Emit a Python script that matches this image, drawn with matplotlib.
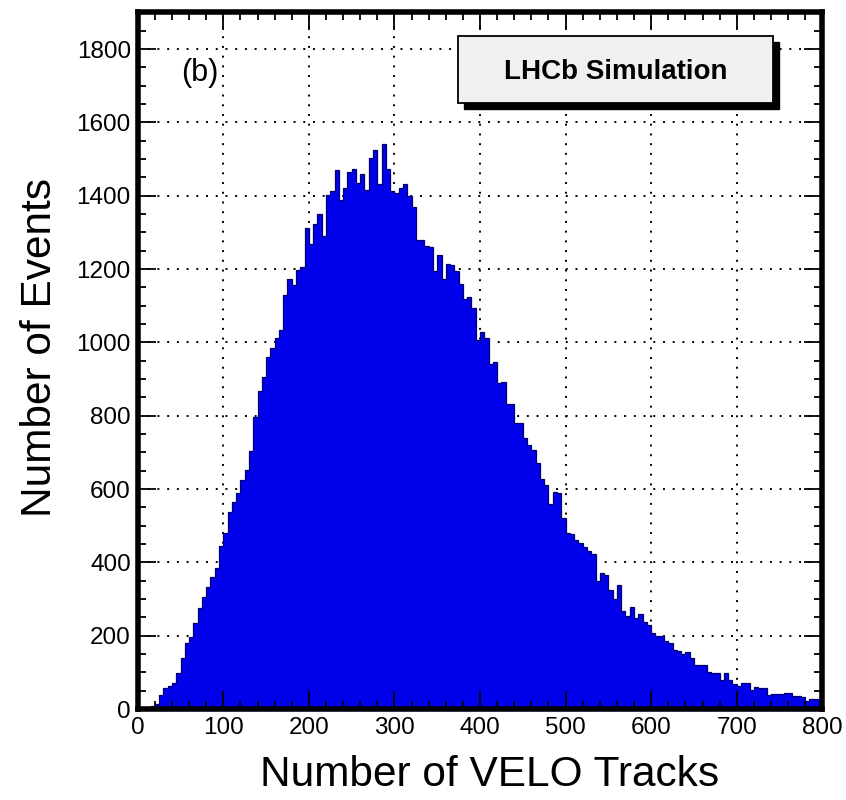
import numpy as np
import matplotlib
matplotlib.use("Agg")
import matplotlib.pyplot as plt
from matplotlib.patches import Rectangle

plt.rcParams['font.family'] = ['Liberation Sans', 'DejaVu Sans']

# histogram: 160 bins of width 5 between 0 and 800
bin_width = 5
x_min, x_max = 0, 800
y_max = 1900

counts = [
    3, 4, 5, 8, 15, 38, 56, 63, 72, 97,
    138, 179, 197, 234, 275, 306, 334, 361, 385, 445,
    479, 538, 565, 588, 625, 652, 704, 797, 868, 906,
    961, 984, 1012, 1034, 1129, 1174, 1156, 1197, 1206, 1312,
    1268, 1324, 1351, 1290, 1402, 1413, 1470, 1388, 1420, 1465,
    1474, 1434, 1458, 1415, 1502, 1525, 1431, 1540, 1472, 1412,
    1407, 1421, 1433, 1399, 1370, 1279, 1279, 1262, 1261, 1195,
    1238, 1173, 1215, 1212, 1195, 1160, 1118, 1124, 1093, 1006,
    1029, 1012, 940, 946, 888, 893, 832, 832, 780, 779,
    740, 720, 706, 670, 627, 612, 558, 593, 590, 522,
    480, 476, 462, 452, 443, 430, 423, 350, 372, 365,
    325, 299, 338, 267, 255, 277, 247, 259, 238, 229,
    208, 200, 198, 186, 179, 161, 158, 150, 156, 138,
    120, 120, 120, 102, 99, 99, 79, 99, 79, 68,
    63, 72, 72, 52, 61, 56, 56, 38, 41, 41,
    41, 43, 45, 35, 35, 32, 23, 26, 26, 28,
]

x_label = "Number of VELO Tracks"
y_label = "Number of Events"
panel_tag = "(b)"
banner = "LHCb Simulation"

edges = np.arange(x_min, x_max + bin_width, bin_width)
x_major = np.arange(0, 801, 100)
x_minor = np.arange(0, 801, 20)
y_major = np.arange(0, 1801, 200)
y_minor = np.arange(0, 1901, 50)

fig = plt.figure(figsize=(8.46, 8.0), dpi=100)
rect = [0.1628, 0.11375, 0.8092, 0.8708]

# background axes: grid + histogram
ax_bg = fig.add_axes(rect)
ax_bg.set_xlim(x_min, x_max)
ax_bg.set_ylim(0, y_max)
ax_bg.set_xticks(x_major)
ax_bg.set_yticks(y_major)
ax_bg.grid(True, color='black', linestyle=(0, (1, 4)), linewidth=1.4)
ax_bg.set_axisbelow(True)
ax_bg.tick_params(which='both', length=0, labelbottom=False, labelleft=False)
for s in ax_bg.spines.values():
    s.set_visible(False)

ax_bg.stairs(counts, edges, fill=True, color='#0000ea', zorder=1)
ax_bg.stairs(counts, edges, fill=False, color='#000070', linewidth=0.9, zorder=1.2)

# front axes: frame, ticks, labels
ax = fig.add_axes(rect, sharex=ax_bg, sharey=ax_bg)
ax.patch.set_visible(False)
ax.set_xticks(x_major)
ax.set_xticks(x_minor, minor=True)
ax.set_yticks(y_major)
ax.set_yticks(y_minor, minor=True)
ax.set_xlim(x_min, x_max)
ax.set_ylim(0, y_max)
ax.tick_params(which='both', direction='in', top=True, right=True,
               labelsize=17.5, width=1.3)
ax.tick_params(which='major', length=13)
ax.tick_params(which='minor', length=6)
ax.tick_params(axis='x', pad=6)
ax.tick_params(axis='y', pad=5)
for s in ax.spines.values():
    s.set_linewidth(4)

ax.set_xlabel(x_label, fontsize=30.5, va='center')
ax.xaxis.set_label_coords(0.5146, -0.0947)
ax.set_ylabel(y_label, fontsize=30.5, va='center')
ax.yaxis.set_label_coords(-0.1427, 0.5196)

ax.text(0.091, 0.913, panel_tag, transform=ax.transAxes, fontsize=22,
        ha='center', va='center')

# LHCb banner with drop shadow
bx0, bx1, by0, by1 = 0.4679, 0.928, 0.8698, 0.966
dx, dy = 0.009, 0.008
ax.add_patch(Rectangle((bx0 + dx, by0 - dy), bx1 - bx0, by1 - by0,
                       transform=ax.transAxes, facecolor='black',
                       edgecolor='black', zorder=5, clip_on=False))
ax.add_patch(Rectangle((bx0, by0), bx1 - bx0, by1 - by0,
                       transform=ax.transAxes, facecolor='#f0f0f0',
                       edgecolor='black', linewidth=1.3, zorder=6, clip_on=False))
ax.text((bx0 + bx1) / 2, 0.9143, banner, transform=ax.transAxes,
        fontsize=20, fontweight='bold', ha='center', va='center', zorder=7)

fig.savefig("out.png", dpi=100)
